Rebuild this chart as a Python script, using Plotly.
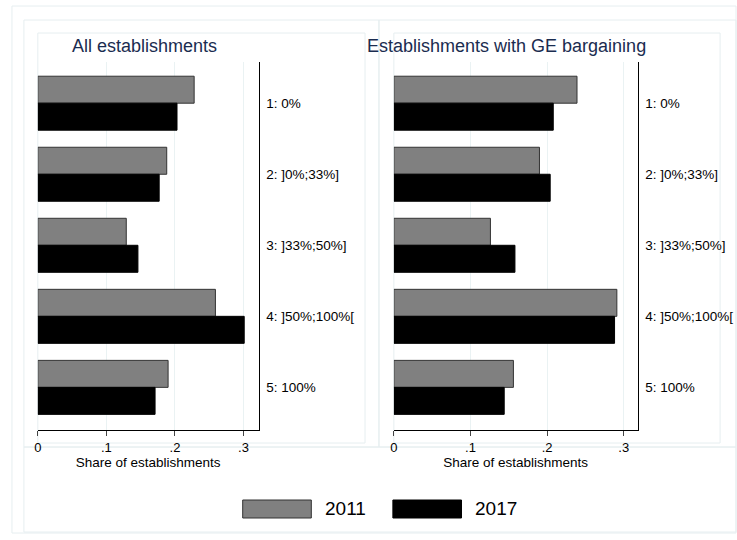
import plotly.graph_objects as go

categories = ["1: 0%", "2: ]0%;33%]", "3: ]33%;50%]", "4: ]50%;100%[", "5: 100%"]
all_2011 = [0.228, 0.188, 0.129, 0.259, 0.190]
all_2017 = [0.203, 0.177, 0.146, 0.301, 0.171]
ge_2011 = [0.239, 0.190, 0.126, 0.291, 0.156]
ge_2017 = [0.208, 0.204, 0.158, 0.288, 0.144]
tickvals = [0, 0.1, 0.2, 0.3]
ticktext = ["0", ".1", ".2", ".3"]
titles = ["All establishments", "Establishments with GE bargaining"]

W, H = 737, 540
fig = go.Figure()
G = "#808080"
for i, (a, b) in enumerate([(all_2011, all_2017), (ge_2011, ge_2017)]):
    xa = "x" if i == 0 else "x2"
    ya = "y" if i == 0 else "y2"
    fig.add_trace(go.Bar(y=categories, x=a, orientation="h", name="2011", marker=dict(color=G, line=dict(color="#333", width=1)),
                         xaxis=xa, yaxis=ya, showlegend=False))
    fig.add_trace(go.Bar(y=categories, x=b, orientation="h", name="2017", marker=dict(color="black", line=dict(color="black", width=1)),
                         xaxis=xa, yaxis=ya, showlegend=False))

def px(x): return x / W
def py(y): return 1 - y / H

ax = dict(range=[0, 0.322], tickvals=tickvals, ticktext=ticktext, ticks="outside", ticklen=5, showline=True,
          linecolor="black", linewidth=1, showgrid=True, gridcolor="#eaf2f3", zeroline=False,
          tickfont=dict(size=13, color="black"), title=dict(text="Share of establishments", font=dict(size=13.5, color="black"), standoff=0))
ay = dict(categoryorder="array", categoryarray=categories, autorange=False, range=[4.6, -0.58], side="right",
          showline=True, linecolor="black", linewidth=1, ticks="", tickfont=dict(size=13.5, color="black"), ticklabelstandoff=4)
fig.update_layout(
    width=W, height=H, margin=dict(l=0, r=0, t=0, b=0), plot_bgcolor="white", paper_bgcolor="white",
    barmode="group", bargap=0.24, bargroupgap=0,
    font=dict(family="Liberation Sans, Arial, sans-serif"),
    xaxis=dict(ax, domain=[px(34), px(256)], anchor="y"),
    xaxis2=dict(ax, domain=[px(392), px(637)], anchor="y2", range=[0, 0.318]),
    yaxis=dict(ay, domain=[py(430), py(62)], anchor="x"),
    yaxis2=dict(ay, domain=[py(430), py(62)], anchor="x2"),
)
fc = "#e6eef0"
shapes = [
    dict(x0=8, y0=6, x1=736, y1=533),
    dict(x0=20, y0=20, x1=377, y1=447),
    dict(x0=377, y0=20, x1=736, y1=447),
    dict(x0=34, y0=33, x1=363, y1=443),
    dict(x0=392, y0=33, x1=720, y1=443),
    dict(x0=20, y0=447, x1=736, y1=532),
]
for s in shapes:
    fig.add_shape(type="rect", xref="paper", yref="paper", x0=px(s["x0"]), x1=px(s["x1"]), y0=py(s["y0"]), y1=py(s["y1"]),
                  line=dict(color=fc, width=1), fillcolor="rgba(0,0,0,0)", layer="below")
fig.add_annotation(text=titles[0], xref="paper", yref="paper", x=px(66), y=py(46), xanchor="left", yanchor="middle",
                   showarrow=False, font=dict(size=18, color="#1a2c50"))
fig.add_annotation(text=titles[1], xref="paper", yref="paper", x=px(363), y=py(46), xanchor="left", yanchor="middle",
                   showarrow=False, font=dict(size=18, color="#1a2c50"))
for (x0, x1, col, lc, lab, tx) in [(240, 309, G, "#333", "2011", 321), (391, 460, "black", "black", "2017", 472)]:
    fig.add_shape(type="rect", xref="paper", yref="paper", x0=px(x0), x1=px(x1), y0=py(500), y1=py(518),
                  fillcolor=col, line=dict(color=lc, width=1))
    fig.add_annotation(text=lab, xref="paper", yref="paper", x=px(tx), y=py(509), xanchor="left", yanchor="middle",
                       showarrow=False, font=dict(size=19, color="black"))
fig.write_html("out.html", config={"displayModeBar": False})
with open("out.html", encoding="utf-8") as f:
    html = f.read()
html = html.replace("<head>", "<head><style>html,body{margin:0;padding:0;overflow:hidden}</style>", 1)
with open("out.html", "w", encoding="utf-8") as f:
    f.write(html)
